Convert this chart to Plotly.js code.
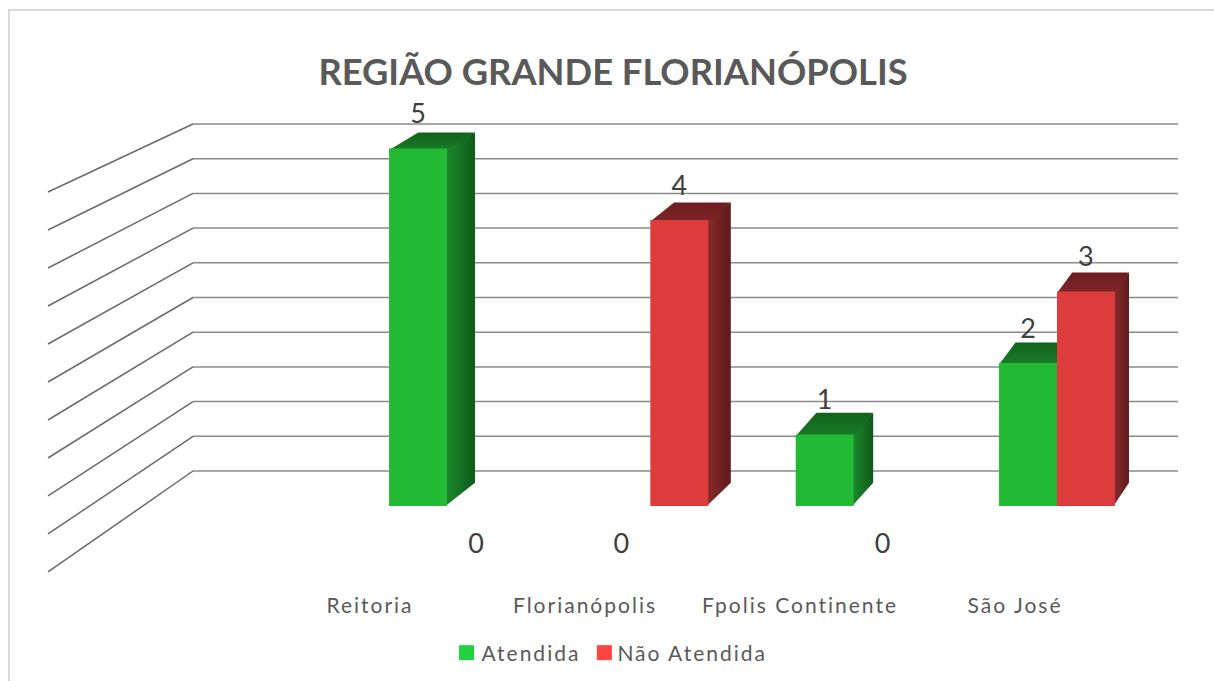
<!DOCTYPE html>
<html><head><meta charset="utf-8">
<script src="https://cdn.plot.ly/plotly-3.0.1.min.js"></script>
<style>
html,body{margin:0;padding:0;background:#fff;overflow:hidden}
.xtick text{letter-spacing:2px}
.legendtext{letter-spacing:2px}
.legend .scrollbox{clip-path:none}
.legend .traces:nth-of-type(1) .legendsymbols{translate:5px 0}
.legend .traces:nth-of-type(2){translate:7px 0}
.legend .traces:nth-of-type(2) .legendsymbols{translate:7px 0}
</style></head><body><div id="chart" style="width:1214px;height:681px"></div>
<script>
const categories = ["Reitoria","Florianópolis","Fpolis Continente","São José"];
const atendida = [5,0,1,2];
const naoAtendida = [0,4,0,3];
const gridValues = [0,0.5,1,1.5,2,2.5,3,3.5,4,4.5,5];

const W=1214,H=681;
// pixel scale of the fake-perspective frame
const xPitch=203.33, x0Px=447, yUnit=71.5, y0Px=506;
const xRange=[-x0Px/xPitch,(W-x0Px)/xPitch];
const yRange=[(y0Px-H)/yUnit,y0Px/yUnit];
const barW=0.285;
const dxOf=x=>0.1377-0.0209*x;
const dyOf=v=>0.3264-0.0205*v;
const seamX=1.5/xPitch, seamY=1.5/yUnit;

const faces=[];
function face(xs,ys,c0,c1,type){
  faces.push({x:xs,y:ys,mode:'lines',line:{width:0},fill:'toself',hoverinfo:'skip',showlegend:false,
    fillgradient:{type:type,colorscale:[[0,c0],[1,c1]]}});
}
function addFaces(vals,sIdx,side0,side1,top0,top1){
  vals.forEach((v,i)=>{
    if(!v) return;
    const xl=i+(sIdx-1)*barW, xr=xl+barW;
    face([xr-seamX,xr+dxOf(xr),xr+dxOf(xr),xr-seamX,xr-seamX],[0,dyOf(0),v+dyOf(v),v,0],side0,side1,'horizontal');
    face([xl,xl+dxOf(xl),xr+dxOf(xr),xr,xl],[v-seamY,v+dyOf(v),v+dyOf(v),v-seamY,v-seamY],top1,top0,'vertical');
  });
}
addFaces(atendida,0,'#1c8a2c','#0f5a1a','#11621c','#1a7a28');
addFaces(naoAtendida,1,'#8a2a2c','#601a1c','#6c1e20','#7e2428');

const xBack=(193-x0Px)/xPitch, xFront=(48-x0Px)/xPitch, xRight=(1178-x0Px)/xPitch;
const backY=v=>0.4895+0.9706*v, frontY=v=>-0.923+1.063*v;
const wallX=[],wallY=[],backX=[],backYs=[];
gridValues.forEach(v=>{
  wallX.push(xFront,xBack,null); wallY.push(frontY(v),backY(v),null);
  backX.push(xBack,xRight,null); backYs.push(backY(v),backY(v),null);
});
const grid=[
  {x:backX,y:backYs,mode:'lines',line:{color:'#8a8a8a',width:1.5},hoverinfo:'skip',showlegend:false},
  {x:wallX,y:wallY,mode:'lines',line:{color:'#6a6a6a',width:1.5},hoverinfo:'skip',showlegend:false}
];

const xs=categories.map((_,i)=>i);
const bars=[
  {type:'bar',x:xs,y:atendida,xaxis:'x2',yaxis:'y2',marker:{color:'#22b935'},showlegend:false,hoverinfo:'y'},
  {type:'bar',x:xs,y:naoAtendida,xaxis:'x2',yaxis:'y2',marker:{color:'#dc3c3c'},showlegend:false,hoverinfo:'y'}
];
const lblY=v=>v>0?v+0.45:-0.56;
const labels=[
  {x:xs.map(i=>i-barW/2),y:atendida.map(lblY),text:atendida.map(String)},
  {x:xs.map(i=>i+barW/2),y:naoAtendida.map(lblY),text:naoAtendida.map(String)}
].map(t=>Object.assign(t,{mode:'text',xaxis:'x2',yaxis:'y2',textposition:'middle center',hoverinfo:'skip',showlegend:false,
  textfont:{family:'Lato',size:27,color:'#404040'}}));
const legendItems=[
  {name:'Atendida',x:[null],y:[null],mode:'markers',xaxis:'x2',yaxis:'y2',marker:{symbol:'square',size:15,color:'#22d33f'}},
  {name:'Não Atendida',x:[null],y:[null],mode:'markers',xaxis:'x2',yaxis:'y2',marker:{symbol:'square',size:15,color:'#ff4444'}}
];

const labelPitch=215/xPitch, labelStart=(370-x0Px)/xPitch;
const layout={
  width:W,height:H,margin:{l:0,r:0,t:0,b:0},paper_bgcolor:'#fff',plot_bgcolor:'rgba(0,0,0,0)',
  title:{text:'<b>REGIÃO GRANDE FLORIANÓPOLIS</b>',x:613/W,xanchor:'center',xref:'paper',y:1-72/H,yanchor:'middle',yref:'paper',
    font:{family:'Lato',size:36.3,color:'#595959'}},
  barmode:'group',bargap:1-2*barW,bargroupgap:0,
  xaxis:{range:xRange,showgrid:false,zeroline:false,showline:false,ticks:'',anchor:'free',position:1-591/H,
    tickmode:'array',tickvals:categories.map((_,i)=>labelStart+i*labelPitch),ticktext:categories,
    tickfont:{family:'Lato',size:21,color:'#595959'},fixedrange:true},
  yaxis:{range:yRange,visible:false,fixedrange:true},
  xaxis2:{range:xRange,overlaying:'x',visible:false,fixedrange:true},
  yaxis2:{range:yRange,overlaying:'y',visible:false,fixedrange:true},
  legend:{orientation:'h',x:611/W,xanchor:'center',y:1-653/H,yanchor:'middle',bgcolor:'rgba(0,0,0,0)',
    font:{family:'Lato',size:21,color:'#595959'},indentation:-15},
  shapes:[
    {type:'line',xref:'paper',yref:'paper',x0:8/W,x1:1,y0:1-10/H,y1:1-10/H,line:{color:'#d9d9d9',width:2}},
    {type:'line',xref:'paper',yref:'paper',x0:9/W,x1:9/W,y0:1-9/H,y1:0,line:{color:'#d9d9d9',width:2}}
  ],
  showlegend:true
};
Plotly.newPlot('chart',grid.concat(faces,bars,labels,legendItems),layout,{displayModeBar:false});
</script></body></html>
